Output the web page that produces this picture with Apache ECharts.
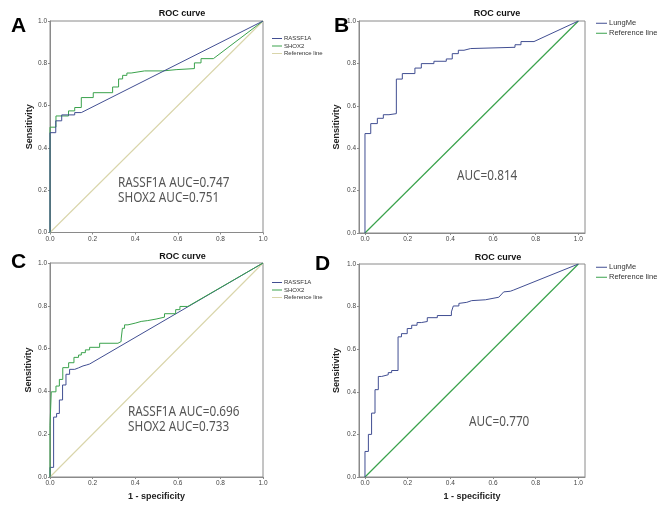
<!DOCTYPE html>
<html>
<head>
<meta charset="utf-8">
<script src="https://cdn.jsdelivr.net/npm/echarts@6/dist/echarts.min.js"></script>
<style>
html,body{margin:0;padding:0;background:#fff;}
#chart{width:669px;height:526px;}
</style>
</head>
<body>
<div id="chart"></div>
<script>
// ---- Data: [1 - specificity, sensitivity] points ----
const A_RASSF1A = [[0,0],[0,0.472],[0.027,0.472],[0.027,0.528],[0.055,0.528],[0.055,0.556],[0.116,0.556],[0.116,0.567],[0.147,0.567],[1,1]];
const A_SHOX2 = [[0,0],[0,0.498],[0.028,0.498],[0.028,0.551],[0.087,0.551],[0.087,0.575],[0.116,0.575],[0.116,0.591],[0.147,0.591],[0.147,0.638],[0.203,0.638],[0.203,0.661],[0.294,0.661],[0.294,0.688],[0.322,0.688],[0.322,0.726],[0.341,0.726],[0.341,0.743],[0.361,0.743],[0.361,0.754],[0.381,0.754],[0.444,0.764],[0.53,0.764],[0.53,0.770],[0.592,0.770],[0.592,0.775],[0.678,0.775],[0.678,0.802],[0.709,0.802],[0.709,0.822],[0.767,0.822],[1,1]];
const B_LungMe = [[0,0],[0,0.469],[0.027,0.469],[0.027,0.516],[0.058,0.516],[0.058,0.541],[0.086,0.541],[0.086,0.558],[0.1125,0.558],[0.1125,0.563],[0.147,0.563],[0.147,0.726],[0.175,0.726],[0.175,0.752],[0.234,0.752],[0.234,0.778],[0.264,0.778],[0.264,0.799],[0.323,0.799],[0.323,0.81],[0.381,0.81],[0.381,0.821],[0.409,0.821],[0.409,0.846],[0.4375,0.846],[0.4375,0.862],[0.464,0.862],[0.464,0.87],[0.495,0.87],[0.495,0.876],[0.703,0.876],[0.703,0.888],[0.731,0.888],[0.731,0.903],[0.792,0.903],[1,1]];
const C_RASSF1A = [[0,0],[0,0.045],[0.017,0.045],[0.017,0.28],[0.031,0.28],[0.031,0.297],[0.044,0.297],[0.044,0.36],[0.059,0.36],[0.059,0.43],[0.075,0.43],[0.075,0.48],[0.092,0.48],[0.092,0.503],[0.116,0.503],[0.116,0.51],[0.134,0.51],[0.134,0.519],[0.155,0.519],[0.155,0.523],[0.17,0.523],[0.17,0.528],[0.186,0.528],[1,1]];
const C_SHOX2 = [[0,0],[0,0.24],[0.006,0.24],[0.006,0.398],[0.028,0.398],[0.028,0.425],[0.044,0.425],[0.044,0.456],[0.06,0.456],[0.06,0.511],[0.0875,0.511],[0.0875,0.534],[0.1125,0.534],[0.1125,0.559],[0.134,0.559],[0.134,0.57],[0.147,0.57],[0.147,0.581],[0.166,0.581],[0.166,0.594],[0.186,0.594],[0.186,0.606],[0.233,0.606],[0.233,0.625],[0.319,0.625],[0.319,0.633],[0.334,0.633],[0.334,0.645],[0.34,0.645],[0.34,0.695],[0.35,0.695],[0.35,0.711],[0.366,0.711],[0.366,0.719],[0.4,0.719],[0.4,0.727],[0.428,0.727],[0.428,0.731],[0.459,0.731],[0.459,0.738],[0.498,0.738],[0.498,0.747],[0.5375,0.747],[0.5375,0.763],[0.59,0.763],[0.59,0.782],[0.61,0.782],[0.61,0.797],[0.647,0.797],[1,1]];
const D_LungMe = [[0,0],[0,0.12],[0.016,0.12],[0.016,0.2],[0.031,0.2],[0.031,0.3],[0.047,0.3],[0.047,0.41],[0.0625,0.41],[0.0625,0.472],[0.078,0.472],[0.078,0.48],[0.109,0.48],[0.109,0.49],[0.125,0.49],[0.125,0.5],[0.155,0.5],[0.155,0.658],[0.171,0.658],[0.171,0.673],[0.198,0.673],[0.198,0.697],[0.219,0.697],[0.219,0.7125],[0.244,0.7125],[0.244,0.725],[0.264,0.725],[0.264,0.73],[0.292,0.73],[0.292,0.748],[0.339,0.748],[0.339,0.758],[0.405,0.758],[0.405,0.775],[0.414,0.775],[0.414,0.803],[0.44,0.803],[0.44,0.815],[0.477,0.82],[0.5,0.828],[0.564,0.832],[0.572,0.838],[0.627,0.844],[0.63,0.853],[0.65,0.869],[0.681,0.872],[0.697,0.878],[1,1]];
const REF_LINE = [[0,0],[1,1]];
const TICKS = [0, 0.2, 0.4, 0.6, 0.8, 1.0];
const PANEL_LETTERS = ['A', 'B', 'C', 'D'];
const AUC_A = ['RASSF1A AUC=0.747', 'SHOX2 AUC=0.751'];
const AUC_B = ['AUC=0.814'];
const AUC_C = ['RASSF1A AUC=0.696', 'SHOX2 AUC=0.733'];
const AUC_D = ['AUC=0.770'];

const BLUE = '#414e92';
const GREEN = '#3aa24c';
const BEIGE = '#d9d5aa';
const FRAME = '#8a8a8a';
const FONT = '"Liberation Sans", Arial, sans-serif';
const AUC_FONT = '"Noto Sans", "Open Sans", sans-serif';

const grids = [
  {left: 50, top: 21, width: 213, height: 211.5},
  {left: 359, top: 21, width: 226, height: 212},
  {left: 50, top: 263, width: 213, height: 214},
  {left: 359, top: 264, width: 226, height: 213}
];

function xAxisFor(i, withName) {
  const wide = (i === 1 || i === 3);
  return {
    type: 'value', gridIndex: i,
    min: wide ? -0.028 : 0, max: wide ? 1.031 : 1,
    splitLine: {show: false},
    axisLine: {onZero: false, lineStyle: {color: FRAME, width: 1}},
    axisTick: {show: true, length: 2, lineStyle: {color: FRAME}, customValues: TICKS},
    axisLabel: {customValues: TICKS, formatter: v => v.toFixed(1), fontSize: 6.5, color: '#444', margin: 3, fontFamily: FONT},
    name: withName ? '1 - specificity' : '',
    nameLocation: 'middle', nameGap: 15,
    nameTextStyle: {fontSize: 9, fontWeight: 'bold', color: '#222', fontFamily: FONT}
  };
}
function yAxisFor(i, gap) {
  return {
    type: 'value', gridIndex: i, min: 0, max: 1, interval: 0.2,
    splitLine: {show: false},
    axisLine: {onZero: false, lineStyle: {color: FRAME, width: 1}},
    axisTick: {show: true, length: 2, lineStyle: {color: FRAME}},
    axisLabel: {formatter: v => v.toFixed(1), fontSize: 6.5, color: '#444', margin: 3, fontFamily: FONT},
    name: 'Sensitivity', nameLocation: 'middle', nameGap: gap,
    nameTextStyle: {fontSize: 9, fontWeight: 'bold', color: '#222', fontFamily: FONT}
  };
}

function line(name, data, idx, color, z, w) {
  return {
    type: 'line', name: name, data: data, xAxisIndex: idx, yAxisIndex: idx,
    showSymbol: false, symbol: 'none', animation: false, z: z || 2,
    lineStyle: {color: color, width: w || 1}, itemStyle: {color: color}
  };
}

const titleStyle = {fontSize: 9, fontWeight: 'bold', color: '#111', fontFamily: FONT};
const letterStyle = {fontSize: 21, fontWeight: 'bold', color: '#000', fontFamily: FONT};

function aucText(x, y, txt) {
  return {
    type: 'text', x: x, y: y, scaleX: 0.84, scaleY: 1,
    style: {text: txt, fontSize: 14, fontFamily: AUC_FONT, fill: '#555', verticalAlign: 'middle', align: 'left'}
  };
}

const smallLegend = (left, top, names, colors, fs, w, gap) => ({
  orient: 'vertical', left: left, top: top, icon: 'rect',
  itemWidth: w, itemHeight: 1, itemGap: gap, padding: 0,
  selectedMode: false,
  textStyle: {fontSize: fs, color: '#333', fontFamily: FONT, padding: [0, 0, 0, -3], lineHeight: fs + 1},
  data: names.map((n, k) => ({name: n, itemStyle: {color: colors[k]}, lineStyle: {color: colors[k]}}))
});

const option = {
  backgroundColor: '#fff',
  animation: false,
  grid: grids.map(g => Object.assign({show: true, borderColor: FRAME, borderWidth: 1, backgroundColor: '#fff'}, g)),
  xAxis: [xAxisFor(0, false), xAxisFor(1, false), xAxisFor(2, true), xAxisFor(3, true)],
  yAxis: [yAxisFor(0, 16), yAxisFor(1, 17.5), yAxisFor(2, 17), yAxisFor(3, 18)],
  title: [
    {text: 'ROC curve', left: 182, top: 9.5, textAlign: 'center', padding: 0, textStyle: titleStyle},
    {text: 'ROC curve', left: 497, top: 9.5, textAlign: 'center', padding: 0, textStyle: titleStyle},
    {text: 'ROC curve', left: 182.5, top: 252, textAlign: 'center', padding: 0, textStyle: titleStyle},
    {text: 'ROC curve', left: 498, top: 253, textAlign: 'center', padding: 0, textStyle: titleStyle},
    {text: PANEL_LETTERS[0], left: 11, top: 16, padding: 0, textStyle: letterStyle},
    {text: PANEL_LETTERS[1], left: 334, top: 16, padding: 0, textStyle: letterStyle},
    {text: PANEL_LETTERS[2], left: 11, top: 252, padding: 0, textStyle: letterStyle},
    {text: PANEL_LETTERS[3], left: 315, top: 254, padding: 0, textStyle: letterStyle}
  ],
  legend: [
    smallLegend(272, 35, ['RASSF1A', 'SHOX2', 'Reference line'], [BLUE, GREEN, BEIGE], 6, 10, 0.5),
    smallLegend(596, 19, ['LungMe', 'Reference line'], [BLUE, GREEN], 7.5, 11, 1.5),
    smallLegend(272, 279, ['RASSF1A', 'SHOX2', 'Reference line'], [BLUE, GREEN, BEIGE], 6, 10, 0.5),
    smallLegend(596, 263, ['LungMe', 'Reference line'], [BLUE, GREEN], 7.5, 11, 1.5)
  ],
  graphic: [
    aucText(118, 183.5, AUC_A[0]),
    aucText(118, 198, AUC_A[1]),
    aucText(457, 176.3, AUC_B[0]),
    aucText(128, 411.7, AUC_C[0]),
    aucText(128, 426.7, AUC_C[1]),
    aucText(469, 421.7, AUC_D[0])
  ],
  series: [
    line('Reference line', REF_LINE, 0, BEIGE, 1, 1.1),
    line('RASSF1A', A_RASSF1A, 0, BLUE, 3),
    line('SHOX2', A_SHOX2, 0, GREEN, 2),
    line('Reference line', REF_LINE, 1, GREEN, 1, 1.2),
    line('LungMe', B_LungMe, 1, BLUE, 2),
    line('Reference line', REF_LINE, 2, BEIGE, 1, 1.1),
    line('RASSF1A', C_RASSF1A, 2, BLUE, 2),
    line('SHOX2', C_SHOX2, 2, GREEN, 3),
    line('Reference line', REF_LINE, 3, GREEN, 1, 1.2),
    line('LungMe', D_LungMe, 3, BLUE, 2)
  ]
};

const chart = echarts.init(document.getElementById('chart'), null, {renderer: 'canvas'});
chart.setOption(option);
</script>
</body>
</html>
